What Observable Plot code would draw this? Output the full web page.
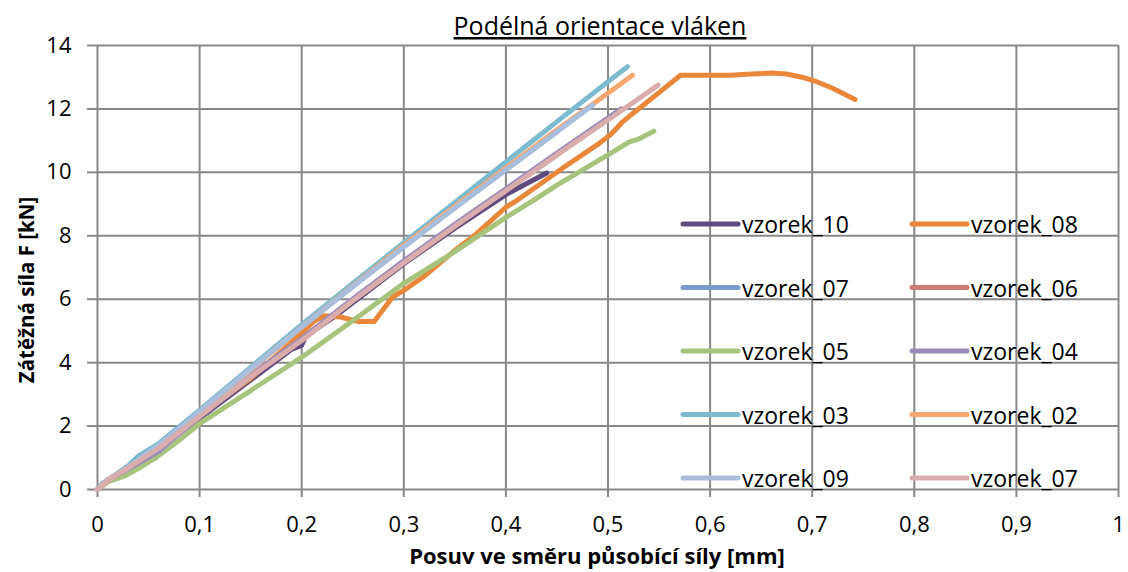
<!DOCTYPE html>
<html><head><meta charset="utf-8">
<script src="https://cdn.jsdelivr.net/npm/d3@7"></script>
<script src="https://cdn.jsdelivr.net/npm/@observablehq/plot@0.6"></script>
<style>
body{margin:0;background:#fff;}
#wrap{width:1128px;height:572px;}
</style></head><body><div id="wrap"></div>
<script>
// ---- data ----
const chartTitle = "Podélná orientace vláken";
const xTitle = "Posuv ve směru působící síly [mm]";
const yTitle = "Zátěžná síla F [kN]";
const xTicks = [0,0.1,0.2,0.3,0.4,0.5,0.6,0.7,0.8,0.9,1];
const xTickLabels = ["0","0,1","0,2","0,3","0,4","0,5","0,6","0,7","0,8","0,9","1"];
const yTicks = [0,2,4,6,8,10,12,14];

const seriesNames = ["vzorek_10","vzorek_08","vzorek_07","vzorek_06","vzorek_05","vzorek_04","vzorek_03","vzorek_02","vzorek_09","vzorek_07"];
const seriesColors = ["#5F4B7E","#E9883A","#7B9CCB","#CC7B79","#A8C47C","#9B8BBA","#7BBACF","#F8A771","#AABEDC","#D9ADAD"];

const vzorek_10 = [[0,0],[0.01,0.25],[0.03,0.6],[0.057,1.0],[0.062,1.35],[0.1,2.25],[0.15,3.45],[0.19,4.42],[0.2,4.55],[0.204,4.85],[0.232,5.45],[0.3,7.12],[0.35,8.24],[0.4,9.3],[0.44,9.98]];
const vzorek_08 = [[0,0],[0.005,0.15],[0.02,0.45],[0.04,0.85],[0.06,1.3],[0.1,2.35],[0.15,3.5],[0.19,4.65],[0.212,5.3],[0.222,5.48],[0.238,5.44],[0.255,5.3],[0.271,5.3],[0.289,6.07],[0.3,6.28],[0.319,6.7],[0.35,7.54],[0.371,8.06],[0.4,8.9],[0.411,9.12],[0.46,10.23],[0.49,10.88],[0.503,11.2],[0.513,11.55],[0.524,11.85],[0.549,12.49],[0.571,13.06],[0.6,13.06],[0.62,13.06],[0.64,13.1],[0.66,13.13],[0.675,13.1],[0.69,13.0],[0.705,12.85],[0.72,12.65],[0.742,12.3]];
const vzorek_07a = [[0,0],[0.01,0.3],[0.03,0.7],[0.06,1.4],[0.1,2.45],[0.15,3.8],[0.2,5.12],[0.25,6.4],[0.3,7.65],[0.35,8.88],[0.4,10.08],[0.45,11.28]];
const vzorek_06 = [[0,0],[0.01,0.3],[0.03,0.68],[0.06,1.3],[0.1,2.3],[0.15,3.55],[0.2,4.7],[0.25,5.95],[0.3,7.15],[0.35,8.3],[0.4,9.42],[0.45,10.55]];
const vzorek_05 = [[0,0],[0.01,0.24],[0.026,0.42],[0.04,0.66],[0.059,1.05],[0.08,1.55],[0.1,2.08],[0.15,3.12],[0.2,4.17],[0.25,5.32],[0.3,6.5],[0.35,7.5],[0.4,8.58],[0.427,9.12],[0.45,9.6],[0.5,10.55],[0.521,10.96],[0.53,11.05],[0.545,11.3]];
const vzorek_04 = [[0,0],[0.01,0.27],[0.03,0.65],[0.06,1.2],[0.065,1.35],[0.1,2.3],[0.15,3.6],[0.2,4.76],[0.25,6.01],[0.3,7.21],[0.35,8.36],[0.4,9.48],[0.45,10.61],[0.513,12.0]];
const vzorek_03 = [[0,0],[0.005,0.2],[0.015,0.4],[0.03,0.75],[0.04,1.05],[0.06,1.45],[0.1,2.5],[0.15,3.85],[0.2,5.2],[0.25,6.5],[0.3,7.78],[0.35,9.05],[0.4,10.33],[0.45,11.6],[0.5,12.86],[0.519,13.33]];
const vzorek_02 = [[0,0],[0.01,0.28],[0.03,0.68],[0.06,1.38],[0.1,2.42],[0.15,3.77],[0.2,5.12],[0.25,6.42],[0.3,7.7],[0.35,8.93],[0.4,10.14],[0.45,11.34],[0.486,12.17],[0.524,13.06]];
const vzorek_09 = [[0,0],[0.01,0.3],[0.03,0.7],[0.06,1.4],[0.1,2.45],[0.15,3.8],[0.2,5.12],[0.25,6.4],[0.3,7.65],[0.35,8.88],[0.4,10.08],[0.45,11.28],[0.485,12.12]];
const vzorek_07b = [[0,0],[0.01,0.3],[0.03,0.68],[0.06,1.3],[0.1,2.3],[0.15,3.55],[0.2,4.7],[0.25,5.95],[0.3,7.15],[0.35,8.3],[0.4,9.42],[0.45,10.55],[0.5,11.65],[0.549,12.75]];

const seriesData = [vzorek_10,vzorek_08,vzorek_07a,vzorek_06,vzorek_05,vzorek_04,vzorek_03,vzorek_02,vzorek_09,vzorek_07b];

// ---- table ----
const rows = [];
seriesData.forEach((pts, i) => pts.forEach(([x,y]) => rows.push({id: i, name: seriesNames[i], x, y})));
const ids = seriesNames.map((_, i) => i);

const gridColor = "#888888";
const font = "'Open Sans', sans-serif";

const chart = Plot.plot({
  width: 1128, height: 572,
  marginLeft: 97, marginRight: 10, marginTop: 45, marginBottom: 83,
  style: {fontFamily: font, fontSize: "22px", color: "#000", background: "#fff"},
  x: {domain: [0, 1], label: null},
  y: {domain: [0, 14], label: null},
  color: {domain: ids, range: seriesColors},
  marks: [
    Plot.gridX(xTicks, {stroke: gridColor, strokeOpacity: 1, strokeWidth: 2}),
    Plot.gridY(yTicks, {stroke: gridColor, strokeOpacity: 1, strokeWidth: 2}),
    Plot.axisX(xTicks, {tickSize: 8, tickPadding: 19, stroke: gridColor, strokeWidth: 2, fill: "#000", fontSize: 22, tickFormat: (d, i) => xTickLabels[i], label: null}),
    Plot.axisY(yTicks, {tickSize: 10, tickPadding: 16, stroke: gridColor, strokeWidth: 2, fill: "#000", fontSize: 22, label: null}),
    Plot.line(rows, {x: "x", y: "y", z: "id", stroke: "id", strokeWidth: 5, strokeLinecap: "round", strokeLinejoin: "round", curve: "linear"})
  ]
});
document.getElementById("wrap").appendChild(chart);

// ---- titles and legend ----
const svg = d3.select(chart);
svg.append("text").attr("x", 600).attr("y", 35).attr("text-anchor", "middle")
  .attr("font-family", font).attr("font-size", 25).attr("fill", "#000")
  .style("text-decoration", "underline").text(chartTitle);
svg.append("text").attr("x", 597).attr("y", 564).attr("text-anchor", "middle")
  .attr("font-family", font).attr("font-size", 22).attr("font-weight", "bold").attr("fill", "#000").text(xTitle);
svg.append("text").attr("transform", "translate(34,290) rotate(-90)").attr("text-anchor", "middle")
  .attr("font-family", font).attr("font-size", 20.5).attr("font-weight", "bold").attr("fill", "#000").text(yTitle);

const legendCols = [683, 912];
const legendRowY = [224, 287.5, 351, 414.5, 478];
seriesNames.forEach((name, i) => {
  const cx = legendCols[i % 2], cy = legendRowY[Math.floor(i / 2)];
  const g = svg.append("g");
  g.append("line").attr("x1", cx).attr("x2", cx + 55).attr("y1", cy).attr("y2", cy)
    .attr("stroke", seriesColors[i]).attr("stroke-width", 5).attr("stroke-linecap", "round");
  g.append("text").attr("x", cx + 59).attr("y", cy + 9).attr("text-anchor", "start").attr("font-family", font)
    .attr("font-size", 23).attr("fill", "#000").text(name);
});
</script>
</body></html>
